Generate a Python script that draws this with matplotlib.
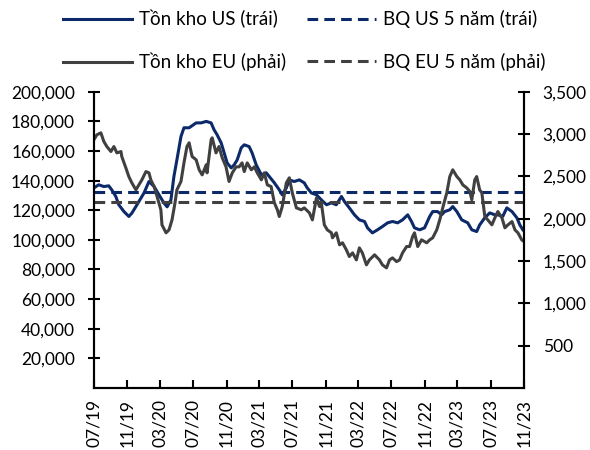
import matplotlib
matplotlib.use("Agg")
import matplotlib.pyplot as plt
import matplotlib.dates as mdates
import matplotlib.ticker as mticker
import pandas as pd

plt.rcParams['font.family'] = ['Lato', 'Noto Sans', 'DejaVu Sans']

# US inventory (left axis)
us_dates = ["2019-07-01", "2019-07-19", "2019-08-07", "2019-08-25", "2019-09-05", "2019-09-20",
            "2019-10-01", "2019-10-20", "2019-11-07", "2019-11-18", "2019-12-03", "2019-12-14",
            "2020-01-02", "2020-01-20", "2020-02-08", "2020-02-26", "2020-03-15", "2020-03-27",
            "2020-04-10", "2020-04-21", "2020-05-02", "2020-05-17", "2020-05-28", "2020-06-16",
            "2020-07-12", "2020-07-30", "2020-08-18", "2020-09-05", "2020-09-16", "2020-09-27",
            "2020-10-12", "2020-10-23", "2020-11-03", "2020-11-18", "2020-11-29", "2020-12-10",
            "2020-12-25", "2021-01-05", "2021-01-23", "2021-02-03", "2021-02-18", "2021-03-09",
            "2021-03-27", "2021-04-07", "2021-04-26", "2021-05-14", "2021-05-25", "2021-06-09",
            "2021-06-20", "2021-07-08", "2021-07-27", "2021-08-14", "2021-08-25", "2021-09-09",
            "2021-09-28", "2021-10-16", "2021-11-04", "2021-11-22", "2021-12-10", "2021-12-29",
            "2022-01-09", "2022-01-27", "2022-02-15", "2022-03-05", "2022-03-24", "2022-04-04",
            "2022-04-22", "2022-05-11", "2022-05-29", "2022-06-17", "2022-07-05", "2022-07-24",
            "2022-08-11", "2022-08-30", "2022-09-13", "2022-09-24", "2022-10-13", "2022-10-31",
            "2022-11-19", "2022-11-30", "2022-12-18", "2023-01-02", "2023-01-13", "2023-02-01",
            "2023-02-12", "2023-02-27", "2023-03-17", "2023-04-08", "2023-04-23", "2023-05-11",
            "2023-05-22", "2023-06-10", "2023-06-28", "2023-07-17", "2023-07-28", "2023-08-15",
            "2023-08-30", "2023-09-18", "2023-10-06", "2023-10-17", "2023-10-28"]
us_stock = [135000, 137200, 136000, 136500, 133800, 129300,
            123700, 119100, 115800, 118000, 122500, 125900,
            131700, 139400, 136000, 130400, 125000, 122300,
            127000, 142800, 154000, 169800, 175700, 175700,
            179000, 179000, 180000, 179000, 174300, 171000,
            165500, 158800, 152000, 148600, 150700, 154000,
            162200, 164200, 163000, 158700, 150700, 143900,
            145300, 142800, 138500, 133800, 130400, 135100,
            140500, 139400, 140500, 138500, 135100, 131700,
            130400, 127000, 123700, 125000, 123700, 129300,
            125900, 121600, 116900, 113500, 112400, 108100,
            104700, 106800, 109000, 111500, 112400, 111500,
            113500, 116900, 112400, 108100, 106800, 108100,
            115800, 119100, 119100, 116900, 119100, 120300,
            122500, 119100, 113500, 111500, 106800, 105600,
            110100, 114900, 118200, 116900, 116900, 115800,
            121600, 119100, 114900, 110100, 106800]

# EU inventory (right axis)
eu_dates = ["2019-07-01", "2019-07-12", "2019-07-27", "2019-08-07", "2019-08-18", "2019-09-02",
            "2019-09-13", "2019-09-24", "2019-10-09", "2019-10-12", "2019-10-27", "2019-11-07",
            "2019-11-18", "2019-12-03", "2019-12-14", "2019-12-25", "2020-01-09", "2020-01-20",
            "2020-01-27", "2020-02-08", "2020-02-19", "2020-03-04", "2020-03-08", "2020-03-23",
            "2020-04-03", "2020-04-14", "2020-04-25", "2020-05-02", "2020-05-17", "2020-05-28",
            "2020-06-08", "2020-06-16", "2020-06-27", "2020-07-12", "2020-07-23", "2020-08-03",
            "2020-08-18", "2020-08-21", "2020-09-05", "2020-09-09", "2020-09-23", "2020-10-04",
            "2020-10-16", "2020-10-30", "2020-11-10", "2020-11-22", "2020-12-06", "2020-12-17",
            "2020-12-28", "2021-01-05", "2021-01-16", "2021-01-31", "2021-02-11", "2021-02-22",
            "2021-03-09", "2021-03-20", "2021-03-31", "2021-04-14", "2021-04-26", "2021-05-07",
            "2021-05-14", "2021-05-25", "2021-06-09", "2021-06-20", "2021-07-01", "2021-07-16",
            "2021-08-03", "2021-08-14", "2021-09-02", "2021-09-13", "2021-09-28", "2021-10-09",
            "2021-10-16", "2021-10-27", "2021-11-07", "2021-11-22", "2021-11-26", "2021-12-10",
            "2021-12-22", "2022-01-02", "2022-01-16", "2022-01-27", "2022-02-08", "2022-02-22",
            "2022-03-05", "2022-03-16", "2022-03-31", "2022-04-11", "2022-04-30", "2022-05-18",
            "2022-05-29", "2022-06-13", "2022-06-24", "2022-07-05", "2022-07-20", "2022-07-31",
            "2022-08-11", "2022-08-26", "2022-09-06", "2022-09-17", "2022-09-24", "2022-10-06",
            "2022-10-20", "2022-11-08", "2022-11-19", "2022-11-30", "2022-12-15", "2022-12-26",
            "2023-01-06", "2023-01-21", "2023-02-01", "2023-02-12", "2023-02-27", "2023-03-10",
            "2023-03-21", "2023-04-04", "2023-04-16", "2023-04-23", "2023-05-04", "2023-05-11",
            "2023-05-22", "2023-05-30", "2023-06-10", "2023-06-21", "2023-07-06", "2023-07-17",
            "2023-07-28", "2023-08-12", "2023-08-23", "2023-09-03", "2023-09-18", "2023-09-29",
            "2023-10-10", "2023-10-24", "2023-11-01"]
eu_stock = [2932, 2991, 3015, 2912, 2853, 2794,
            2853, 2778, 2794, 2735, 2601, 2498,
            2424, 2341, 2400, 2459, 2557, 2542,
            2459, 2380, 2262, 2105, 1927, 1833,
            1868, 1986, 2187, 2341, 2440, 2660,
            2853, 2897, 2735, 2696, 2578, 2518,
            2637, 2542, 2932, 2956, 2778, 2853,
            2720, 2613, 2440, 2542, 2613, 2613,
            2660, 2557, 2660, 2578, 2613, 2542,
            2459, 2542, 2400, 2380, 2187, 2105,
            2026, 2144, 2424, 2483, 2306, 2128,
            2105, 2128, 2069, 1986, 2247, 2144,
            2187, 1927, 1868, 1833, 1774, 1833,
            1691, 1715, 1632, 1553, 1596, 1513,
            1655, 1596, 1454, 1513, 1573, 1513,
            1454, 1419, 1513, 1537, 1493, 1513,
            1596, 1671, 1671, 1789, 1833, 1671,
            1750, 1715, 1750, 1774, 1868, 1986,
            2128, 2306, 2498, 2578, 2498, 2459,
            2400, 2365, 2321, 2223, 2459, 2498,
            2341, 2306, 2026, 1986, 1927, 2010,
            2085, 2010, 1892, 1927, 1966, 1868,
            1833, 1750, 1730]

us_avg_5y = 132000
eu_avg_5y = 2200

navy = '#0C2A6A'
grey = '#404040'

us_dt = pd.to_datetime(us_dates)
eu_dt = pd.to_datetime(eu_dates)
x_start = pd.Timestamp("2019-07-01")
x_end = pd.Timestamp("2023-11-01")

fig = plt.figure(figsize=(5.9, 4.5), dpi=100)
ax = fig.add_axes([0.159, 0.138, 0.729, 0.658])
ax2 = ax.twinx()

l1, = ax.plot(us_dt, us_stock, color=navy, lw=2.2, label='Tồn kho US (trái)')
l2, = ax.plot([x_start, x_end], [us_avg_5y, us_avg_5y], color=navy, lw=2.2,
              ls=(0, (3.5, 2)), label='BQ US 5 năm (trái)')
l3, = ax2.plot(eu_dt, eu_stock, color=grey, lw=2.2, label='Tồn kho EU (phải)')
l4, = ax2.plot([x_start, x_end], [eu_avg_5y, eu_avg_5y], color=grey, lw=2.2,
               ls=(0, (3.5, 2)), label='BQ EU 5 năm (phải)')

ax.set_xlim(x_start, x_end)
ax.set_ylim(0, 200000)
ax2.set_ylim(0, 3500)
ax.set_yticks(range(20000, 200001, 20000))
ax2.set_yticks(range(500, 3501, 500))
ax.yaxis.set_major_formatter(mticker.StrMethodFormatter('{x:,.0f}'))
ax2.yaxis.set_major_formatter(mticker.StrMethodFormatter('{x:,.0f}'))

ax.xaxis.set_major_locator(mdates.MonthLocator(bymonth=[3, 7, 11]))
ax.xaxis.set_major_formatter(mdates.DateFormatter('%m/%y'))
plt.setp(ax.get_xticklabels(), rotation=90)

for a in (ax, ax2):
    a.spines['top'].set_visible(False)
    for s in ('left', 'right', 'bottom'):
        a.spines[s].set_linewidth(1.5)
ax.tick_params(axis='y', direction='inout', length=9, width=1.5, labelsize=12.5, pad=9)
ax2.tick_params(axis='y', direction='inout', length=9, width=1.5, labelsize=12.5, pad=9)
ax.tick_params(axis='x', direction='in', length=6, width=1.5, labelsize=12.5, pad=8)

fig.legend(handles=[l1, l3, l2, l4], ncol=2, loc='upper left',
           bbox_to_anchor=(63 / 590, 0.978), frameon=False, fontsize=13.5,
           borderpad=0, borderaxespad=0,
           handlelength=3.7, labelspacing=1.3, columnspacing=1.1, handletextpad=0.35)

fig.savefig('out.png', dpi=100)
